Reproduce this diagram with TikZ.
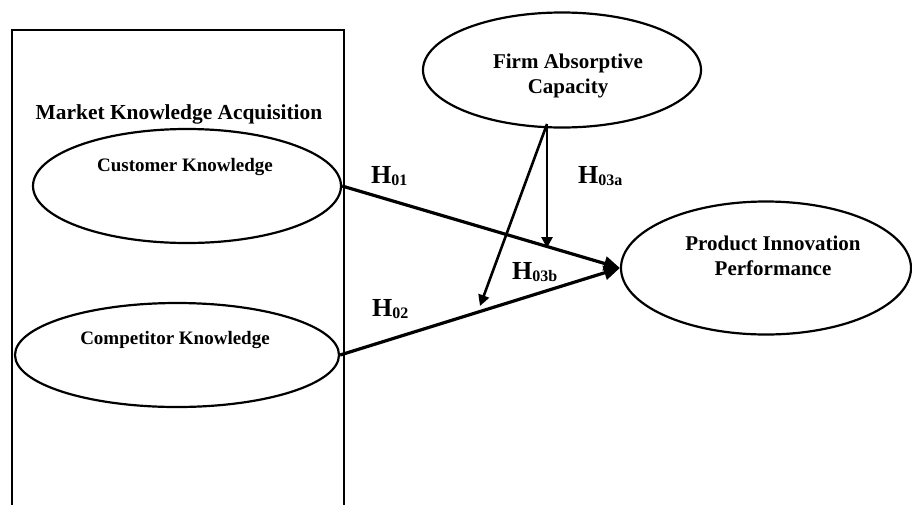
\documentclass[tikz,border=0pt]{standalone}
\usepackage{fontspec}
\setmainfont{Liberation Serif}
\usetikzlibrary{shapes.geometric,arrows.meta}
\tikzset{
  ell/.style={draw, ellipse, line width=2.2pt, inner sep=0pt},
  lbl/.style={font=\bfseries, inner sep=0pt, align=center},
  hyp/.style={font=\bfseries\fontsize{26}{26}\selectfont, inner sep=0pt, anchor=base west},
  conn/.style={line width=3.2pt, -{Triangle[length=16pt,width=14pt]}},
  modc/.style={line width=2.6pt, -{Triangle[length=11pt,width=11pt]}},
  frame/.style={line width=2.2pt}
}
\newcommand{\hsub}[1]{H\raisebox{-2pt}{\fontsize{16}{16}\selectfont #1}}
\begin{document}
\begin{tikzpicture}[x=1pt,y=-1pt]
\useasboundingbox (0,0) rectangle (912,504);
% frame (open at the bottom)
\coordinate (fbl) at (12,506);
\coordinate (ftl) at (12,30);
\coordinate (ftr) at (344,30);
\coordinate (fbr) at (344,506);
\draw[frame] (fbl) -- (ftl) -- (ftr) -- (fbr);
\node[lbl, font=\bfseries\fontsize{21.4}{25}\selectfont] (mka) at (179,114) {Market Knowledge Acquisition};

% ellipses
\node[ell, minimum width=308pt, minimum height=114pt] (cust) at (187,186) {};
\node[lbl, font=\bfseries\fontsize{19}{23}\selectfont] (custt) at (185,167) {Customer Knowledge};

\node[ell, minimum width=324pt, minimum height=104pt] (comp) at (177,355) {};
\node[lbl, font=\bfseries\fontsize{19}{23}\selectfont] (compt) at (175,340) {Competitor Knowledge};

\node[ell, minimum width=278pt, minimum height=115pt] (firm) at (562,70) {};
\node[lbl, font=\bfseries\fontsize{21}{25}\selectfont] (firmt) at (568,76) {Firm Absorptive\\Capacity};

\node[ell, minimum width=290pt, minimum height=133pt] (prod) at (766,268) {};
\node[lbl, font=\bfseries\fontsize{21}{25}\selectfont] (prodt) at (773,256) {Product Innovation\\Performance};

% connectors
\draw[conn] (cust.east) -- (prod.west);
\draw[conn] (comp.east) -- (prod.west);
\coordinate (src) at (547,124);
\coordinate (enda) at (547,248);
\coordinate (endb) at (480,306);
\draw[modc] (src) -- (enda);
\draw[modc] (src) -- (endb);

% hypothesis labels
\node[hyp] (h01) at (371,183) {\hsub{01}};
\node[hyp] (h02) at (372,316) {\hsub{02}};
\node[hyp] (h03a) at (578,183) {\hsub{03a}};
\node[hyp] (h03b) at (512,279) {\hsub{03b}};
\end{tikzpicture}
\end{document}
